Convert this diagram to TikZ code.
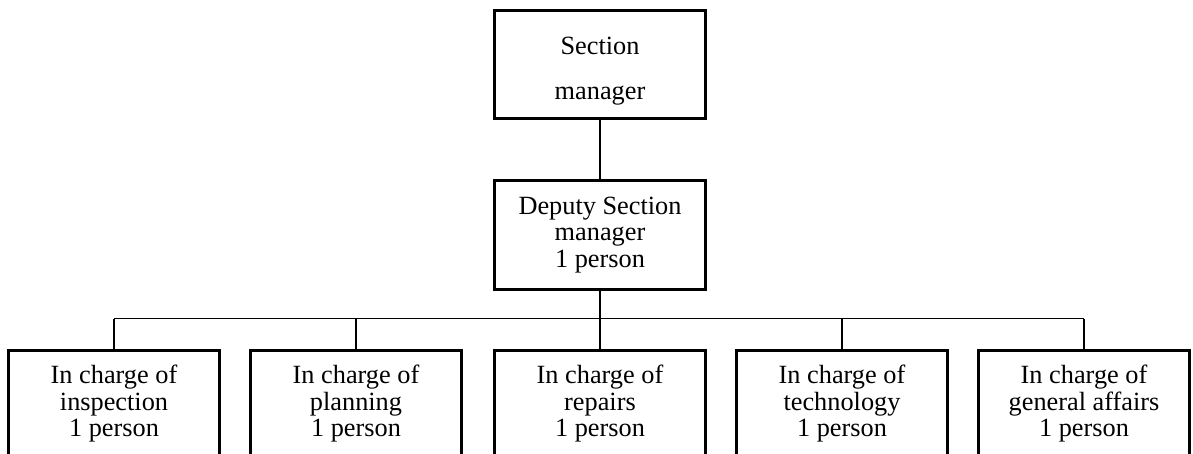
\documentclass[tikz,border=0pt]{standalone}
\usepackage{fontspec}
\setmainfont{Liberation Serif}
\newcommand\orgfont{\fontsize{26.3}{26.5}\selectfont\lineskiplimit=-20pt\relax}
\begin{document}
\begin{tikzpicture}[x=1pt,y=-1pt,
  txt/.style={inner sep=0pt, align=center, font=\orgfont},
  box/.style={txt, draw, line width=3pt, minimum width=211pt, minimum height=108pt},
  trunk/.style={line width=2.2pt},
  branch/.style={line width=1.2pt}]
\useasboundingbox (0,0) rectangle (1193,454);
\clip (0,0) rectangle (1193,454);

% head of the section
\node[box] (sec) at (600,64.5) {};
\node[txt] (sectext) at (600,71.5) {Section\\[18.5pt]manager};

% deputy
\node[box] (dep) at (600,235) {Deputy Section\\manager\\1 person};

% staff units
\node[box] (u1) at (114,404) {In charge of\\inspection\\1 person};
\node[box] (u2) at (356,404) {In charge of\\planning\\1 person};
\node[box] (u3) at (600,404) {In charge of\\repairs\\1 person};
\node[box] (u4) at (842,404) {In charge of\\technology\\1 person};
\node[box] (u5) at (1084,404) {In charge of\\general affairs\\1 person};

% connectors
\coordinate (bus) at (600,318.5);
\draw[branch] (u1.north |- bus) -- (u5.north |- bus);
\foreach \u in {u1,u2,u4,u5}
  \draw[branch] (\u.north |- bus) -- (\u.north);
\draw[trunk] (sec.south) -- (dep.north);
\draw[trunk] (dep.south) -- (u3.north);
\end{tikzpicture}
\end{document}
